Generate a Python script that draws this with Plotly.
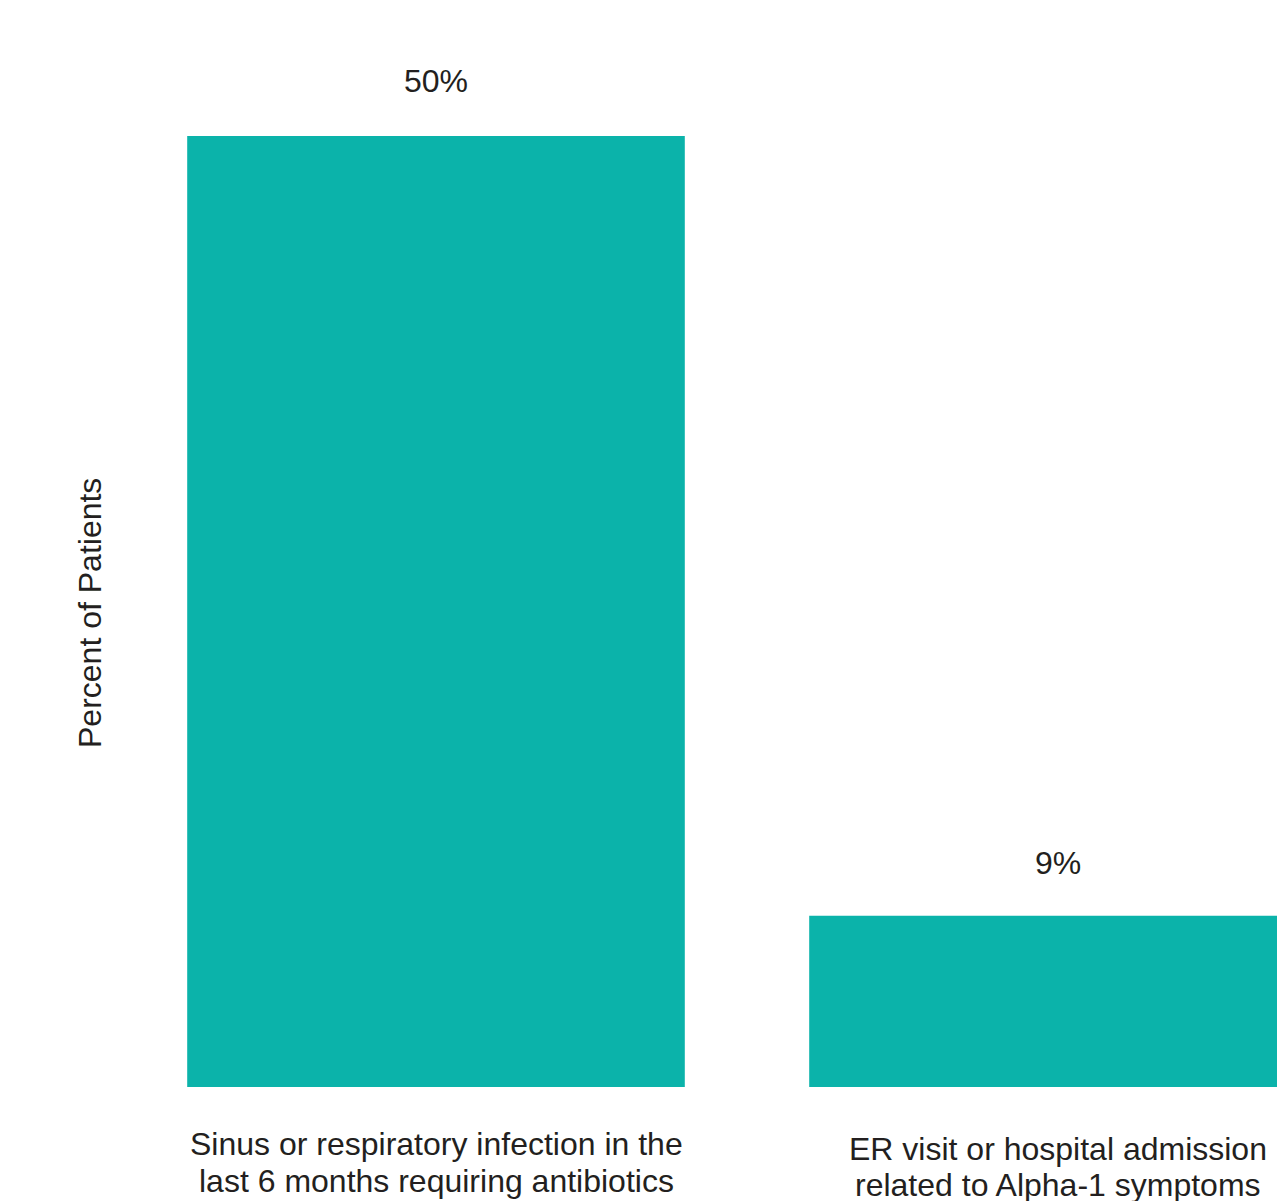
import plotly.graph_objects as go

categories = ["Sinus or respiratory infection in the<br>last 6 months requiring antibiotics",
              "ER visit or hospital admission<br>related to Alpha-1 symptoms"]
values = [50, 9]
value_labels = ["50%", "9%"]
y_title = "Percent of Patients"

BAR_COLOR = "#0BB3AA"
TEXT_COLOR = "#231F20"
FONT = "Liberation Sans, Arial, sans-serif"
FS = 32

# body margin is removed below, so figure pixels = screen pixels
W, H = 1277, 1201
L, R, T, B = 130, 0, 20, 114
PX_PER_CAT = 622
CENTER0 = 436
PX_PER_PCT = 951 / 50

x_idx = list(range(len(categories)))

fig = go.Figure()
fig.add_trace(go.Bar(x=x_idx, y=values, width=0.8,
                     marker=dict(color=BAR_COLOR, line=dict(width=0)),
                     hoverinfo="skip"))

font = dict(family=FONT, size=FS, color=TEXT_COLOR)
annotations = []
value_shift = [55, 53]
for i, (v, lab) in enumerate(zip(values, value_labels)):
    annotations.append(dict(x=i, y=v, xref="x", yref="y", text=lab, showarrow=False,
                            yanchor="middle", yshift=value_shift[i], font=font))

line_shifts = [[-57, -94], [-62, -98]]
for i, c in enumerate(categories):
    for j, line in enumerate(c.split("<br>")):
        annotations.append(dict(x=i, y=0, xref="x", yref="y", text=line, showarrow=False,
                                yanchor="middle", yshift=line_shifts[i][j], font=font))

annotations.append(dict(x=(90 - L) / (W - L - R), y=(H - B - 613) / (H - T - B),
                        xref="paper", yref="paper", text=y_title, showarrow=False,
                        textangle=-90, xanchor="center", yanchor="middle", font=font))

fig.update_layout(
    width=W, height=H,
    margin=dict(l=L, r=R, t=T, b=B),
    paper_bgcolor="white", plot_bgcolor="white",
    showlegend=False,
    font=font,
    annotations=annotations,
    xaxis=dict(range=[-(CENTER0 - L) / PX_PER_CAT, (W - R - CENTER0) / PX_PER_CAT],
               showticklabels=False, showgrid=False, zeroline=False, showline=False, ticks=""),
    yaxis=dict(range=[0, (H - T - B) / PX_PER_PCT], showticklabels=False, showgrid=False,
               zeroline=False, showline=False, ticks=""),
)

fig.write_html("out.html",
               config={"displayModeBar": False},
               post_script="document.body.style.margin='0';"
                           "document.documentElement.style.overflow='hidden';"
                           "document.body.style.overflow='hidden';")
